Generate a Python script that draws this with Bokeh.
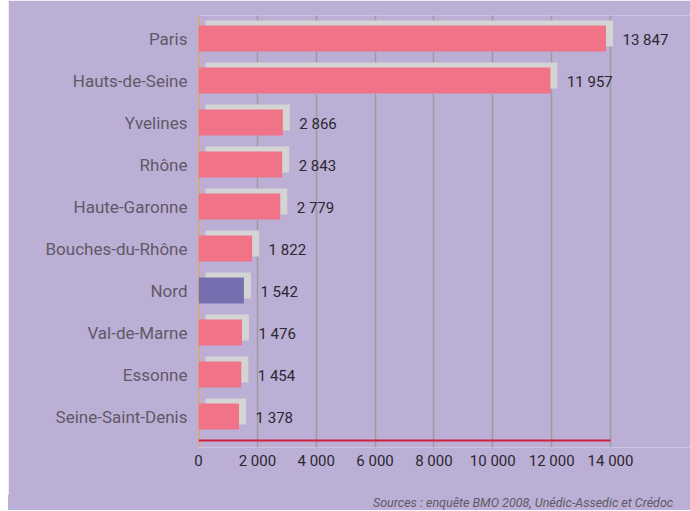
from bokeh.plotting import figure
from bokeh.models import Range1d, FixedTicker, ColumnDataSource, Span, Div
from bokeh.layouts import column
from bokeh.core.properties import value
from bokeh.embed import file_html
from bokeh.resources import INLINE

# ---- data ----
departements = ["Paris", "Hauts-de-Seine", "Yvelines", "Rhône", "Haute-Garonne",
                "Bouches-du-Rhône", "Nord", "Val-de-Marne", "Essonne",
                "Seine-Saint-Denis"]
projets = [13847, 11957, 2866, 2843, 2779, 1822, 1542, 1476, 1454, 1378]
x_ticks = [0, 2000, 4000, 6000, 8000, 10000, 12000, 14000]
highlight = "Nord"
source_text = "Sources : enquête BMO 2008, Unédic-Assedic et Crédoc"

# ---- style constants ----
BG = "#BCAFD6"
PINK = "#F07387"
VIOLET = "#756FB0"
SHADOW = "#D4D4D4"
NUMFONT = "Roboto"

W, H = 682, 495
frame_left, frame_right = 190, 682      # figure pixel coords
frame_top, frame_bottom = 15, 447
x_max = 16718
px_per_x = (frame_right - frame_left) / x_max
row_px = 42.0
y_top = -(38 - frame_top) / row_px
y_bot = 9 + (frame_bottom - 416) / row_px

p = figure(width=W, height=H, output_backend="svg", toolbar_location=None,
           x_range=Range1d(0, x_max), y_range=Range1d(y_bot, y_top),
           min_border_left=frame_left, min_border_right=0,
           min_border_top=frame_top, min_border_bottom=H - frame_bottom,
           background_fill_color=BG, border_fill_color=BG, margin=0)
p.outline_line_color = None

ys = list(range(len(departements)))
colors = [VIOLET if d == highlight else PINK for d in departements]
labels = [f"{v:,}".replace(",", " ") for v in projets]

dx = 7 / px_per_x
dy = 5 / row_px
src = ColumnDataSource(dict(y=ys, v=projets, c=colors, lab=labels,
                            ys=[y - dy for y in ys],
                            l0=[dx] * len(ys),
                            vs=[v + dx for v in projets]))

# grid
p.xgrid.ticker = FixedTicker(ticks=x_ticks[1:])
p.xgrid.grid_line_color = "#9C9AA2"
p.xgrid.grid_line_width = 1.5
p.ygrid.grid_line_color = None

p.add_layout(Span(location=0, dimension="height", line_color="#F39200",
                  line_width=1.5, level="underlay"))

# shadow + bars
p.hbar(y="ys", left="l0", right="vs", height=0.62, source=src,
       fill_color=SHADOW, line_color=None)
p.hbar(y="y", left=0, right="v", height=0.62, source=src,
       fill_color="c", line_color=None)

# axis baseline (red)
y_axis_line = 9 + (440 - 416) / row_px
p.segment(x0=[x_ticks[0]], x1=[x_ticks[-1]], y0=[y_axis_line], y1=[y_axis_line],
          line_color="#D0203A", line_width=2)

# value labels
p.text(x="v", y="y", text="lab", source=src, x_offset=16.5, y_offset=1,
       text_font=value(NUMFONT), text_font_size="15px",
       text_color="#2A2830", text_baseline="middle", text_align="left")

# axes
p.xaxis.ticker = FixedTicker(ticks=x_ticks)
p.xaxis.major_label_overrides = {t: f"{t:,}".replace(",", " ") for t in x_ticks}
p.xaxis.axis_line_color = None
p.xaxis.major_tick_line_color = None
p.xaxis.minor_tick_line_color = None
p.xaxis.major_tick_out = 0
p.xaxis.major_tick_in = 0
p.xaxis.minor_tick_out = 0
p.xaxis.major_label_standoff = 4
p.xaxis.major_label_text_font = NUMFONT
p.xaxis.major_label_text_font_size = "15px"
p.xaxis.major_label_text_color = "#2A2830"

p.yaxis.ticker = FixedTicker(ticks=ys)
p.yaxis.major_label_overrides = {i: d for i, d in zip(ys, departements)}
p.yaxis.axis_line_color = None
p.yaxis.major_tick_line_color = None
p.yaxis.minor_tick_line_color = None
p.yaxis.major_label_standoff = 5
p.yaxis.major_label_text_font = "Roboto"
p.yaxis.major_label_text_font_size = "17px"
p.yaxis.major_label_text_color = "#5E5A66"

# source note
note = Div(text=source_text, width=W, height=15, margin=0,
           styles={"background-color": BG, "font-family": "Roboto",
                   "font-style": "italic", "font-size": "12.5px",
                   "color": "#5E5A66", "padding-left": "365px",
                   "line-height": "15px", "white-space": "nowrap",
                   "overflow": "hidden", "box-sizing": "border-box"})

layout = column(p, note, spacing=0, margin=0)
layout.styles = {"margin-left": "8px"}

open("out.html", "w").write(file_html(layout, INLINE))
